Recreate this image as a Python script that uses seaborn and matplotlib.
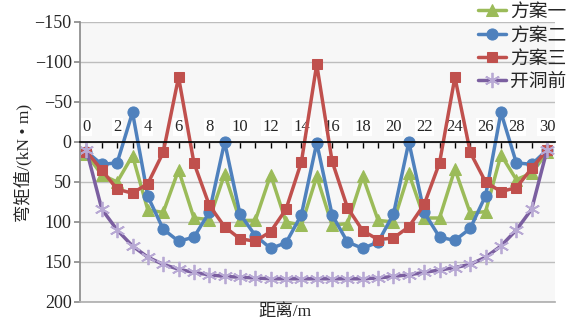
import matplotlib.pyplot as plt
import pandas as pd
import seaborn as sns

# distance along the wall (m) and bending moment (kN·m)
distance = list(range(31))
plan_one = [15, 41, 50, 17, 85, 88, 35, 95, 97, 40, 98, 98, 41, 100, 104, 43,
            104, 102, 43, 98, 100, 39, 95, 95, 34, 89, 87, 16, 47, 39, 13]
plan_two = [12, 28, 26, -37, 68, 109, 124, 119, 88, 0, 90, 117, 133, 126, 91, 1,
            91, 125, 133, 125, 90, 0, 88, 119, 123, 108, 67, -37, 26, 28, 10]
plan_three = [12, 35, 59, 64, 52, 13, -81, 26, 79, 106, 121, 124, 112, 84, 25, -97,
              24, 82, 111, 122, 120, 106, 78, 26, -81, 13, 50, 62, 57, 33, 10]
before_opening = [10, 84, 110, 130, 144, 153, 159, 163, 166, 168, 169, 170, 171, 171, 171, 171,
                  171, 171, 171, 170, 168, 166, 163, 160, 157, 153, 144, 130, 110, 84, 10]
series_names = ["方案一", "方案二", "方案三", "开洞前"]
y_ticks = [-150, -100, -50, 0, 50, 100, 150, 200]
x_ticks = list(range(0, 31, 2))

df = pd.DataFrame({
    "距离": distance * 4,
    "弯矩": plan_one + plan_two + plan_three + before_opening,
    "方案": [n for n in series_names for _ in distance],
})

styles = {
    "方案一": dict(color="#9bbb59", marker="^", ms=8, mec="#9bbb59"),
    "方案二": dict(color="#4f81bd", marker="o", ms=8, mec="#4f81bd"),
    "方案三": dict(color="#c0504d", marker="s", ms=7.5, mec="#c0504d"),
    "开洞前": dict(color="#7b5fa0", marker=(6, 2, 0), ms=11, mec="#b8a9d4", mew=1.3),
}

sns.set_theme(style="white")
plt.rcParams["font.family"] = ["Liberation Serif", "Noto Sans CJK SC"]
plt.rcParams["axes.unicode_minus"] = True

fig = plt.figure(figsize=(5.73, 3.22), dpi=100)
fig.patch.set_facecolor("white")
ax = fig.add_axes([80 / 573, 1 - 302 / 322, 475 / 573, 280 / 322])
ax.set_facecolor("#f7f7f7")

for name in series_names:
    sns.lineplot(data=df[df["方案"] == name], x="距离", y="弯矩", ax=ax,
                 label=name, lw=2.5, errorbar=None, **styles[name])

handles, labels = ax.get_legend_handles_labels()
ax.get_legend().remove()
fig.legend(handles, labels, loc="upper left", bbox_to_anchor=(476 / 573, 1 - 2 / 322),
           bbox_transform=fig.transFigure, frameon=False, fontsize=13.5,
           handlelength=1.5, handletextpad=0.2, labelspacing=0.33,
           borderpad=0.1, borderaxespad=0)

ax.set_xlim(-0.42, 30.52)
ax.set_ylim(200, -150)
ax.set_yticks(y_ticks)
ax.yaxis.grid(True, color="#bdbdbd", lw=1)
ax.set_axisbelow(True)

# x axis drawn along the zero line, labels above it
ax.xaxis.tick_top()
ax.spines["top"].set_position(("data", 0))
ax.spines["top"].set_color("black")
ax.spines["top"].set_linewidth(1.2)
ax.set_xticks(x_ticks)
ax.set_xticks(distance, minor=True)
ax.tick_params(axis="x", which="both", direction="in", length=4, width=1,
               color="black", labelsize=12, pad=5)
for lbl in ax.get_xticklabels():
    lbl.set_bbox(dict(facecolor="white", edgecolor="none", pad=1))

ax.spines["right"].set_visible(False)
ax.spines["left"].set_color("#8c8c8c")
ax.spines["bottom"].set_color("#b0b0b0")
ax.tick_params(axis="y", direction="out", length=4, color="#8c8c8c",
               labelsize=13, pad=2, left=True)
ax.set_xlabel("")
ax.set_ylabel("")

fig.text(23 / 573, 1 - 163 / 322, "弯矩值/(kN • m)", rotation=90,
         ha="center", va="center", fontsize=12.5)
fig.text(285 / 573, 1 - 312 / 322, "距离/m", ha="center", va="center", fontsize=12.5)

fig.savefig("out.png", dpi=100)
